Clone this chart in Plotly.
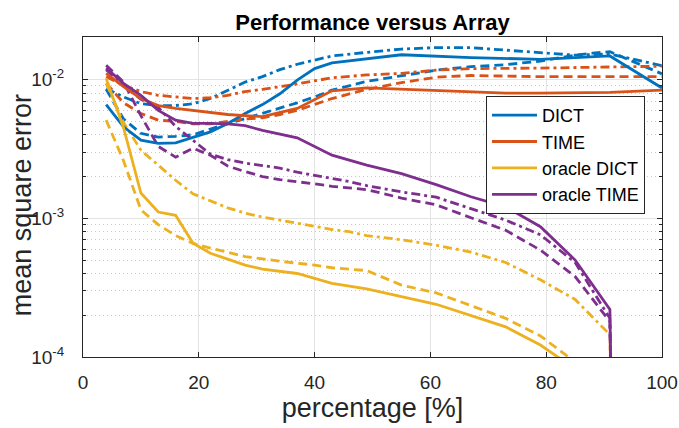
import plotly.graph_objects as go

# ---------------- data ----------------
dict_solid_x = [4, 7, 10, 13, 16, 19, 22, 25, 28, 31, 34, 37, 40, 43, 55, 67, 79, 91, 100]
dict_solid_y = [0.0066, 0.00457, 0.00366, 0.00347, 0.0035, 0.00385, 0.0042, 0.00483, 0.0057, 0.0066,
                0.0079, 0.0099, 0.0120, 0.0132, 0.0151, 0.0144, 0.0140, 0.0148, 0.0087]

dict_dash_x = [4, 7, 10, 13, 16, 19, 22, 25, 28, 31, 34, 37, 40, 43, 49, 55, 61, 67, 73, 79, 85, 88, 91, 100]
dict_dash_y = [0.0085, 0.0052, 0.0041, 0.00385, 0.0039, 0.0040, 0.0044, 0.0048, 0.0052, 0.0057, 0.0062,
               0.0068, 0.0075, 0.0084, 0.0097, 0.0107, 0.0117, 0.0124, 0.0128, 0.0136, 0.0150, 0.0155,
               0.0159, 0.0110]

dict_dashdot_x = [4, 7, 10, 13, 16, 19, 22, 25, 28, 31, 34, 37, 43, 49, 55, 61, 67, 73, 79, 85, 91, 100]
dict_dashdot_y = [0.0086, 0.0075, 0.0067, 0.0065, 0.0065, 0.0067, 0.0073, 0.0084, 0.0096, 0.0105, 0.0118,
                  0.0129, 0.0148, 0.0157, 0.0166, 0.0170, 0.0170, 0.0163, 0.0156, 0.0150, 0.0153, 0.0126]

time_solid_x = [4, 7, 10, 13, 16, 19, 22, 25, 28, 31, 37, 43, 49, 61, 73, 79, 91, 100]
time_solid_y = [0.0111, 0.0089, 0.0073, 0.0065, 0.0062, 0.0060, 0.0058, 0.0056, 0.0055, 0.0054, 0.0062,
                0.0083, 0.0087, 0.0083, 0.0080, 0.0080, 0.0081, 0.0084]

time_dash_x = [4, 7, 10, 13, 16, 19, 22, 25, 28, 31, 34, 37, 40, 43, 49, 55, 61, 67, 79, 91, 100]
time_dash_y = [0.0094, 0.0068, 0.0057, 0.0051, 0.0050, 0.0048, 0.0048, 0.0050, 0.0052, 0.0053, 0.0056,
               0.0060, 0.0066, 0.0073, 0.0085, 0.0095, 0.0104, 0.0107, 0.0105, 0.0105, 0.0105]

time_dashdot_x = [4, 7, 10, 13, 16, 19, 22, 25, 28, 31, 37, 43, 49, 55, 61, 67, 79, 91, 100]
time_dashdot_y = [0.0105, 0.0091, 0.0082, 0.0077, 0.0075, 0.0073, 0.0074, 0.0077, 0.0082, 0.0085, 0.0093,
                  0.0103, 0.0108, 0.0111, 0.0117, 0.0120, 0.0121, 0.0123, 0.0125]

odict_solid_x = [4, 7, 10, 13, 16, 19, 22, 25, 28, 31, 37, 43, 49, 61, 73, 79, 85]
odict_solid_y = [0.0102, 0.0045, 0.00152, 0.00111, 0.00105, 0.00066, 0.00056, 0.00051, 0.00046, 0.00043,
                 0.00040, 0.00034, 0.00031, 0.00024, 0.000165, 0.000122, 0.000082]

odict_dash_x = [4, 7, 10, 13, 16, 19, 22, 25, 28, 31, 34, 40, 43, 49, 55, 61, 67, 73, 79, 85]
odict_dash_y = [0.0051, 0.0026, 0.00115, 0.0009, 0.00075, 0.00066, 0.00061, 0.00057, 0.00053, 0.00051,
                0.00049, 0.00046, 0.00044, 0.00042, 0.00033, 0.00029, 0.000235, 0.00019, 0.000142, 0.000092]

odict_dashdot_x = [4, 7, 10, 13, 16, 19, 22, 25, 28, 31, 34, 40, 43, 46, 49, 55, 61, 67, 73, 79, 85, 91, 94]
odict_dashdot_y = [0.0094, 0.0049, 0.0031, 0.0024, 0.00188, 0.00150, 0.00133, 0.00119, 0.00109, 0.00102,
                   0.00097, 0.00087, 0.00083, 0.0008, 0.00075, 0.0007, 0.00064, 0.00057, 0.00048, 0.00036,
                   0.00026, 0.000145, 1e-12]

otime_solid_x = [4, 7, 10, 13, 16, 19, 22, 25, 28, 31, 37, 43, 49, 55, 61, 67, 73, 79, 85, 91, 94]
otime_solid_y = [0.0121, 0.0094, 0.0077, 0.0060, 0.0051, 0.00483, 0.00483, 0.0048, 0.00465, 0.0043, 0.0038,
                 0.00285, 0.00242, 0.0021, 0.00175, 0.00143, 0.00121, 0.00087, 0.0005, 0.00022, 1e-12]

otime_dash_x = [4, 7, 10, 13, 16, 19, 22, 25, 28, 31, 34, 37, 40, 43, 49, 55, 61, 67, 73, 79, 85, 91, 94]
otime_dash_y = [0.0127, 0.0096, 0.0055, 0.0033, 0.00276, 0.0032, 0.00285, 0.00238, 0.00217, 0.0020, 0.0019,
                0.00184, 0.00177, 0.0017, 0.00161, 0.0014, 0.00125, 0.00101, 0.00082, 0.00059, 0.00038,
                0.00018, 1e-12]

otime_dashdot_x = [4, 7, 10, 13, 16, 19, 22, 25, 28, 31, 34, 37, 40, 46, 49, 55, 61, 67, 73, 79, 85, 91, 94]
otime_dashdot_y = [0.0118, 0.0091, 0.0072, 0.0063, 0.0046, 0.00366, 0.0029, 0.00265, 0.0025, 0.0024, 0.0023,
                   0.00215, 0.00204, 0.00184, 0.00172, 0.00155, 0.00142, 0.00118, 0.00097, 0.00076,
                   0.00048, 0.00019, 1e-12]

legend_names = ["DICT", "TIME", "oracle DICT", "oracle TIME"]
x_ticks = [0, 20, 40, 60, 80, 100]
y_ticks = [1e-4, 1e-3, 1e-2]
y_tick_text = ["10<sup>-4</sup>", "10<sup>-3</sup>", "10<sup>-2</sup>"]

# ---------------- styling ----------------
colors = ["#0072BD", "#D95319", "#EDB120", "#7E2F8E"]
DASH = "9px,5px"
DASHDOT = "9px,4px,3px,4px"
LW = 2.8

groups = [
    (dict_solid_x, dict_solid_y, dict_dash_x, dict_dash_y, dict_dashdot_x, dict_dashdot_y),
    (time_solid_x, time_solid_y, time_dash_x, time_dash_y, time_dashdot_x, time_dashdot_y),
    (odict_solid_x, odict_solid_y, odict_dash_x, odict_dash_y, odict_dashdot_x, odict_dashdot_y),
    (otime_solid_x, otime_solid_y, otime_dash_x, otime_dash_y, otime_dashdot_x, otime_dashdot_y),
]

fig = go.Figure()
for (sx, sy, dx, dy, ddx, ddy), c in zip(groups, colors):
    fig.add_trace(go.Scatter(x=dx, y=dy, mode="lines", showlegend=False,
                             line=dict(color=c, width=LW, dash=DASH)))
    fig.add_trace(go.Scatter(x=ddx, y=ddy, mode="lines", showlegend=False,
                             line=dict(color=c, width=LW, dash=DASHDOT)))
for (sx, sy, dx, dy, ddx, ddy), c, name in zip(groups, colors, legend_names):
    fig.add_trace(go.Scatter(x=sx, y=sy, mode="lines", name=name,
                             line=dict(color=c, width=LW)))

minor_vals = [k * 10.0 ** e for e in (-4, -3, -2) for k in range(2, 10)]

FONT = "Liberation Sans, Arial, Helvetica, sans-serif"
AX = "#262626"

fig.update_layout(
    width=679, height=428,
    margin=dict(l=83, r=17, t=37, b=71, autoexpand=False),
    paper_bgcolor="white", plot_bgcolor="white",
    font=dict(family=FONT, color=AX),
    title=dict(text="<b>Performance versus Array</b>", x=0.5, xanchor="center",
               xref="paper", y=0.948, yref="container", yanchor="middle",
               font=dict(size=22, color="black")),
    showlegend=True,
    legend=dict(x=0.696, y=0.816, xanchor="left", yanchor="top",
                bgcolor="white", bordercolor=AX, borderwidth=1, itemwidth=45,
                font=dict(size=18, color="black"), tracegroupgap=0),
    annotations=[dict(text="mean square error", textangle=-90, showarrow=False,
                      xref="paper", yref="paper", x=-0.105, y=0.475,
                      xanchor="center", yanchor="middle",
                      font=dict(size=27, color=AX))],
)

fig.update_xaxes(
    range=[0, 100], tickvals=x_ticks, ticks="inside", ticklen=5, tickcolor=AX,
    showline=True, linecolor=AX, linewidth=1, mirror="ticks", automargin=False,
    showgrid=True, gridcolor="#e3e3e3", gridwidth=1, zeroline=False,
    tickfont=dict(size=19, color=AX), ticklabelstandoff=8,
    title=dict(text="percentage [%]", font=dict(size=27, color=AX), standoff=4),
)
fig.update_yaxes(
    type="log", range=[-4, -1.693], tickmode="array", tickvals=y_ticks, ticktext=y_tick_text,
    ticks="inside", ticklen=5, tickcolor=AX, automargin=False,
    showline=True, linecolor=AX, linewidth=1, mirror="ticks",
    showgrid=True, gridcolor="#e3e3e3", gridwidth=1, zeroline=False,
    tickfont=dict(size=19, color=AX), ticklabelstandoff=14,
    minor=dict(tickmode="array", tickvals=minor_vals, ticks="inside", ticklen=3, tickcolor=AX,
               showgrid=True, gridcolor="#c8c8c8", griddash="1px,3px", gridwidth=1),
)

fig.write_html("out.html", config={"displayModeBar": False},
               post_script="document.body.style.margin='0px';document.body.style.overflow='hidden';")
